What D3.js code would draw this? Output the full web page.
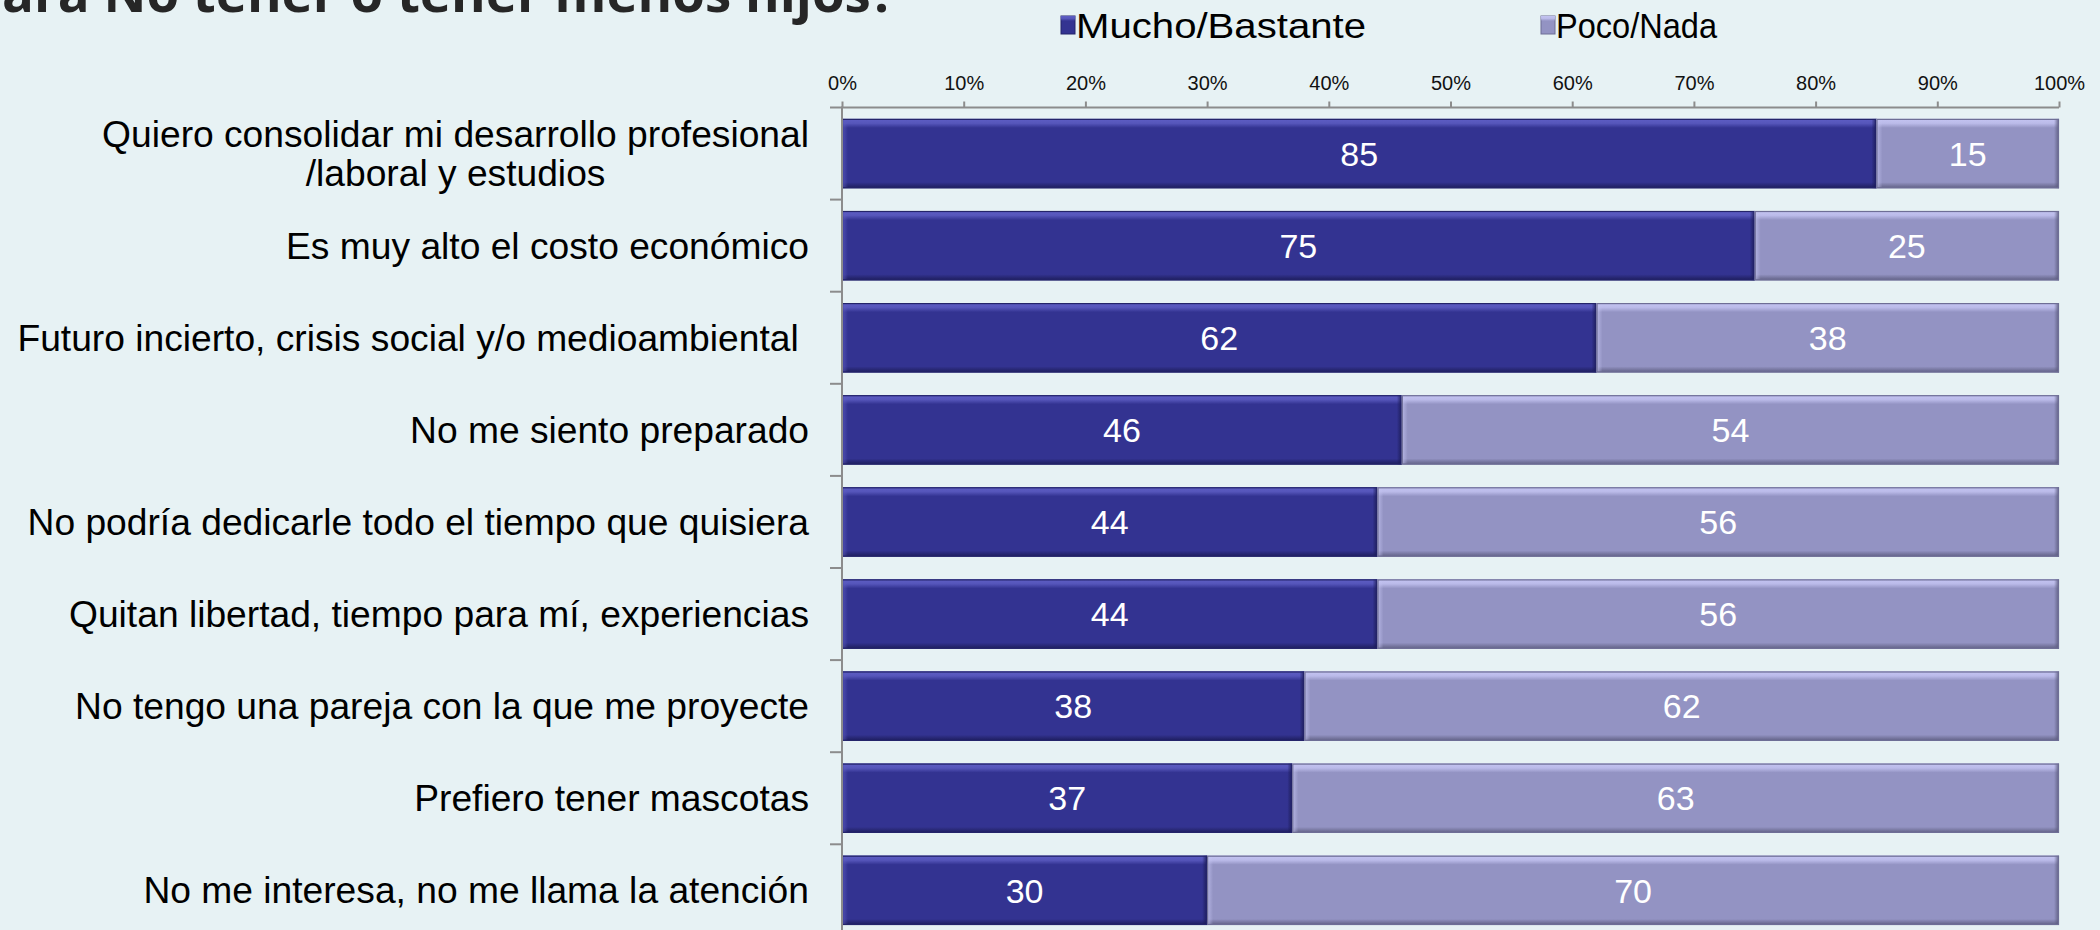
<!DOCTYPE html>
<html>
<head>
<meta charset="utf-8">
<script src="https://cdn.jsdelivr.net/npm/d3@7"></script>
<style>
  html, body { margin: 0; padding: 0; background: #E7F2F4; overflow: hidden; }
  svg { display: block; }
  text { font-family: "Liberation Sans", Arial, sans-serif; }
</style>
</head>
<body>
<svg id="chart" width="2100" height="930"></svg>
<script>
const categories = [
  "Quiero consolidar mi desarrollo profesional|/laboral y estudios",
  "Es muy alto el costo económico",
  "Futuro incierto, crisis social y/o medioambiental ",
  "No me siento preparado",
  "No podría dedicarle todo el tiempo que quisiera",
  "Quitan libertad, tiempo para mí, experiencias",
  "No tengo una pareja con la que me proyecte",
  "Prefiero tener mascotas",
  "No me interesa, no me llama la atención"
];
const seriesNames = ["Mucho/Bastante", "Poco/Nada"];
const mucho = [85, 75, 62, 46, 44, 44, 38, 37, 30];
const poco  = [15, 25, 38, 54, 56, 56, 62, 63, 70];
const xTicks = [0, 10, 20, 30, 40, 50, 60, 70, 80, 90, 100];
const titleText = "ara No tener o tener menos hijos?";

const svg = d3.select("#chart");
svg.append("rect").attr("width", 2100).attr("height", 930).attr("fill", "#E7F2F4");

const x0 = 842, x1 = 2059, yTop = 107.5, step = 92.1;
const x = d3.scaleLinear().domain([0, 100]).range([x0, x1]);
const y = d3.scaleBand().domain(categories).range([yTop, yTop + step * categories.length])
  .paddingInner(0.2476).paddingOuter(0.1238);

const palette = [
  { base: "#333391", hi: "#5E5EC4", lo: "#1B1B55", edge: "#24246A" },
  { base: "#9393C3", hi: "#C4C4F2", lo: "#5A5A7C", edge: "#6E6E96" }
];

// gradients
const defs = svg.append("defs");
palette.forEach((p, i) => {
  const gt = defs.append("linearGradient").attr("id", "top" + i).attr("x1", 0).attr("y1", 0).attr("x2", 0).attr("y2", 1);
  gt.append("stop").attr("offset", 0).attr("stop-color", p.hi).attr("stop-opacity", 1);
  gt.append("stop").attr("offset", 0.5).attr("stop-color", p.hi).attr("stop-opacity", 0.8);
  gt.append("stop").attr("offset", 1).attr("stop-color", p.hi).attr("stop-opacity", 0);
  const gb = defs.append("linearGradient").attr("id", "bot" + i).attr("x1", 0).attr("y1", 0).attr("x2", 0).attr("y2", 1);
  gb.append("stop").attr("offset", 0).attr("stop-color", p.lo).attr("stop-opacity", 0);
  gb.append("stop").attr("offset", 1).attr("stop-color", p.lo).attr("stop-opacity", 0.9);
  const gl = defs.append("linearGradient").attr("id", "lef" + i).attr("x1", 0).attr("y1", 0).attr("x2", 1).attr("y2", 0);
  gl.append("stop").attr("offset", 0).attr("stop-color", p.hi).attr("stop-opacity", 0.7);
  gl.append("stop").attr("offset", 1).attr("stop-color", p.hi).attr("stop-opacity", 0);
  const gr = defs.append("linearGradient").attr("id", "rig" + i).attr("x1", 0).attr("y1", 0).attr("x2", 1).attr("y2", 0);
  gr.append("stop").attr("offset", 0).attr("stop-color", p.lo).attr("stop-opacity", 0);
  gr.append("stop").attr("offset", 1).attr("stop-color", p.lo).attr("stop-opacity", 0.9);
});

// Title (cut off at top, as in the reference)
svg.append("text")
  .attr("x", 2).attr("y", 12)
  .style("font-family", "'Open Sans', sans-serif")
  .attr("font-weight", "bold").attr("font-size", 52.8)
  .attr("fill", "#262626")
  .text(titleText);

// Legend
const legend = [
  { name: seriesNames[0], mx: 1061, tx: 1076, w: 290, i: 0 },
  { name: seriesNames[1], mx: 1541, tx: 1556, w: 161, i: 1 }
];
legend.forEach(l => {
  const p = palette[l.i];
  svg.append("rect").attr("x", l.mx).attr("y", 16).attr("width", 14).attr("height", 18)
    .attr("fill", p.base).attr("stroke", p.edge).attr("stroke-width", 1);
  svg.append("rect").attr("x", l.mx).attr("y", 16).attr("width", 14).attr("height", 5).attr("fill", `url(#top${l.i})`);
  svg.append("text").attr("x", l.tx).attr("y", 37.5).attr("font-size", 35).attr("fill", "#000")
    .attr("textLength", l.w).attr("lengthAdjust", "spacingAndGlyphs")
    .text(l.name);
});

// Stacked data
const rows = categories.map((c, i) => ({ cat: c, segs: [
  { s: 0, from: 0, to: mucho[i], v: mucho[i] },
  { s: 1, from: mucho[i], to: mucho[i] + poco[i], v: poco[i] }
]}));

const gBars = svg.append("g");
rows.forEach(r => {
  r.segs.forEach(sg => {
    const p = palette[sg.s];
    const bx = x(sg.from), bw = x(sg.to) - x(sg.from), by = y(r.cat), bh = y.bandwidth();
    const g = gBars.append("g");
    g.append("rect").attr("x", bx).attr("y", by).attr("width", bw).attr("height", bh).attr("fill", p.base);
    g.append("rect").attr("x", bx).attr("y", by).attr("width", bw).attr("height", 9).attr("fill", `url(#top${sg.s})`);
    g.append("rect").attr("x", bx).attr("y", by + bh - 6).attr("width", bw).attr("height", 6).attr("fill", `url(#bot${sg.s})`);
    g.append("rect").attr("x", bx).attr("y", by).attr("width", 6).attr("height", bh).attr("fill", `url(#lef${sg.s})`);
    g.append("rect").attr("x", bx + bw - 5).attr("y", by).attr("width", 5).attr("height", bh).attr("fill", `url(#rig${sg.s})`);
    g.append("rect").attr("x", bx + 0.5).attr("y", by + 0.5).attr("width", bw - 1).attr("height", bh - 1)
      .attr("fill", "none").attr("stroke", p.edge).attr("stroke-width", 1.2);
    g.append("text").attr("x", bx + bw / 2).attr("y", by + bh / 2).attr("dy", "0.36em")
      .attr("text-anchor", "middle").attr("font-size", 34).attr("fill", "#FFFFFF")
      .text(sg.v);
  });
});

// X axis on top
const xAxis = d3.axisTop(x).tickValues(xTicks).tickFormat(d => d + "%").tickSize(6).tickPadding(12);
const gx = svg.append("g").attr("transform", `translate(0,${yTop})`).call(xAxis);
gx.select(".domain").attr("d", `M830,0H${x1}`).attr("stroke", "#8C8C8C").attr("stroke-width", 2);
gx.selectAll(".tick line").attr("stroke", "#8C8C8C").attr("stroke-width", 2);
gx.selectAll(".tick text").attr("font-size", 20).attr("fill", "#111")
  .attr("font-family", "'Liberation Sans', Arial, sans-serif");

// Y axis (vertical line + category ticks between bands)
const gy = svg.append("g");
gy.append("line").attr("x1", x0).attr("x2", x0).attr("y1", yTop - 1).attr("y2", 930)
  .attr("stroke", "#8C8C8C").attr("stroke-width", 2);
d3.range(1, categories.length + 1).forEach(i => {
  const ty = yTop + i * step;
  gy.append("line").attr("x1", 830).attr("x2", x0).attr("y1", ty).attr("y2", ty)
    .attr("stroke", "#8C8C8C").attr("stroke-width", 2);
});

// Category labels (multi-line labels are centred on their widest line, right-aligned block)
const labelX = 809, labelSize = 37.2;
categories.forEach((c, i) => {
  const cy = y(c) + y.bandwidth() / 2;
  const parts = c.split("|");
  if (parts.length === 1) {
    svg.append("text").attr("x", labelX).attr("y", cy).attr("dy", "0.35em")
      .attr("text-anchor", "end").attr("font-size", labelSize).attr("fill", "#000")
      .style("white-space", "pre")
      .text(parts[0]);
  } else {
    const t1 = svg.append("text").attr("x", labelX).attr("y", cy - 19.4).attr("dy", "0.35em")
      .attr("text-anchor", "end").attr("font-size", labelSize).attr("fill", "#000")
      .text(parts[0]);
    const w1 = t1.node().getComputedTextLength();
    svg.append("text").attr("x", labelX - w1 / 2).attr("y", cy + 19.4).attr("dy", "0.35em")
      .attr("text-anchor", "middle").attr("font-size", labelSize).attr("fill", "#000")
      .text(parts[1]);
  }
});
</script>
</body>
</html>
